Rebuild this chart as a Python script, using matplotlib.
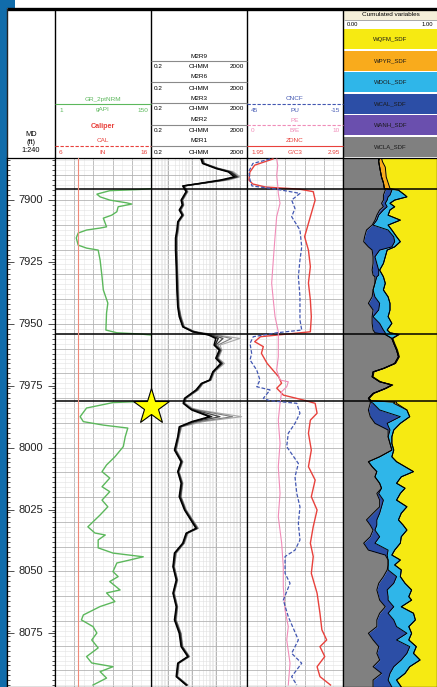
import numpy as np
import matplotlib.pyplot as plt
from matplotlib.patches import Rectangle
from matplotlib.ticker import MultipleLocator, FixedLocator, LogLocator, NullFormatter

plt.rcParams['font.family'] = ['Liberation Sans', 'DejaVu Sans']

W, H = 437, 687          # figure size in px
HEAD_BOT = 158           # bottom of the header band (px)
TRACK_X = [7, 55, 151, 247, 343, 437]

# ---- depth frame ---------------------------------------------------------
TOP_MD, BOT_MD = 7883.0, 8096.7
MD_LABELS = [7900, 7925, 7950, 7975, 8000, 8025, 8050, 8075]
ZONE_TOPS = [7895.7, 7954.1, 7981.3]
STAR_MD = 7983.6

# ---- track 1 : gamma ray + caliper --------------------------------------
GR_SCALE = (1, 150)
CAL_SCALE = (6, 16)
GR_MD = [7883.0, 7895.0, 7895.7, 7896.2, 7897.6, 7898.7, 7900.0, 7901.1, 7901.6, 7902.7,
         7904.7, 7906.1, 7907.3, 7910.8, 7911.3, 7912.1, 7913.3, 7915.3, 7918.2, 7919.4,
         7920.2, 7924.2, 7931.0, 7936.3, 7941.6, 7945.6, 7952.5, 7953.6, 7954.1, 7955.0,
         7980.6, 7981.3, 7981.8, 7984.0, 7987.5, 7989.5, 7990.9, 7992.1, 7995.6, 7999.6,
         8003.7, 8007.0, 8009.7, 8012.3, 8015.8, 8017.8, 8021.2, 8023.9, 8027.2, 8032.0,
         8034.5, 8035.3, 8037.3, 8040.5, 8042.6, 8044.1, 8045.4, 8046.6, 8050.1, 8052.1,
         8054.1, 8057.5, 8058.7, 8062.2, 8064.2, 8067.6, 8069.6, 8072.3, 8074.9, 8077.7,
         8080.9, 8084.4, 8087.0, 8088.5, 8090.5, 8093.1, 8095.9]
GR_API = [175, 170, 133, 86, 66, 71, 86, 112, 120, 99,
          97, 89, 76, 81, 71, 50, 37, 34, 37, 50,
          68, 71, 74, 76, 83, 81, 80, 97, 133, 170,
          170, 140, 91, 50, 40, 45, 76, 114, 110, 107,
          94, 81, 74, 86, 74, 86, 74, 83, 71, 52,
          63, 79, 68, 68, 91, 138, 117, 97, 91, 99,
          86, 102, 81, 94, 71, 45, 42, 60, 66, 58,
          68, 50, 58, 91, 71, 81, 60]
CAL_MD = [7883.0, 8096.7]
CAL_IN = [8.4, 8.4]

# ---- track 2 : resistivities ---------------------------------------------
RES_SCALE = (0.2, 2000)
RES_MD = [7883.2, 7885.2, 7887.2, 7888.6, 7890.6, 7891.9, 7893.3, 7894.3, 7896.6, 7900.0,
          7902.0, 7904.0, 7906.1, 7908.8, 7912.1, 7915.3, 7920.2, 7926.9, 7936.3, 7943.1,
          7947.1, 7951.2, 7953.2, 7954.5, 7955.9, 7958.6, 7960.6, 7963.9, 7966.0, 7969.4,
          7972.7, 7974.1, 7976.7, 7980.1, 7982.1, 7984.1, 7984.8, 7987.5, 7989.5, 7991.6,
          7995.6, 8001.0, 8005.7, 8009.7, 8014.4, 8019.8, 8025.2, 8032.6, 8034.6, 8038.6,
          8042.6, 8048.1, 8053.5, 8058.8, 8064.3, 8069.6, 8075.0, 8080.4, 8084.4, 8087.1,
          8092.5, 8095.9]
M2R1 = [24, 28, 100, 330, 600, 160, 20, 4.2, 5.8, 3.6,
        4.0, 3.0, 4.0, 2.6, 2.4, 2.1, 2.1, 2.25, 2.4, 2.6,
        3.0, 4.2, 11, 50, 100, 85, 140, 100, 160, 75,
        55, 25, 15, 5.0, 4.4, 8.0, 10, 55, 10, 3.0,
        2.6, 1.9, 3.6, 2.6, 3.6, 3.0, 5.0, 15, 5.8, 4.2,
        1.9, 1.65, 2.25, 1.65, 2.25, 1.9, 3.0, 3.6, 6.8, 2.6,
        2.25, 5.8]
M2R2 = [26, 30, 109, 392, 745, 200, 22, 4.4, 6.1, 3.8,
        4.2, 3.2, 4.2, 2.7, 2.5, 2.2, 2.2, 2.35, 2.5, 2.7,
        3.2, 4.4, 11.6, 57, 127, 93, 150, 109, 177, 79,
        57, 26, 16, 5.2, 4.6, 8.4, 11.6, 68, 11.6, 3.2,
        2.7, 2.0, 3.8, 2.7, 3.8, 3.2, 5.2, 16, 6.1, 4.4,
        2.0, 1.7, 2.35, 1.7, 2.35, 2.0, 3.2, 3.8, 7.2, 2.7,
        2.35, 6.1]
M2R3 = [27, 32, 115, 420, 800, 220, 24, 4.6, 6.4, 4.0,
        4.4, 3.4, 4.4, 2.8, 2.6, 2.3, 2.3, 2.45, 2.6, 2.8,
        3.4, 4.6, 12.5, 70, 200, 100, 160, 115, 185, 82,
        60, 28, 17, 5.5, 4.8, 8.8, 13, 150, 14, 3.4,
        2.8, 2.1, 4.0, 2.8, 4.0, 3.4, 5.5, 17, 6.4, 4.6,
        2.1, 1.8, 2.45, 1.8, 2.45, 2.1, 3.4, 4.0, 7.6, 2.8,
        2.45, 6.4]
M2R6 = [28, 33, 125, 480, 900, 280, 26, 4.8, 6.6, 4.1,
        4.5, 3.5, 4.5, 2.9, 2.7, 2.4, 2.4, 2.5, 2.7, 2.9,
        3.5, 4.8, 13.5, 90, 450, 120, 170, 120, 200, 85,
        62, 29, 18, 5.7, 5.0, 9.5, 16, 500, 20, 3.6,
        2.9, 2.2, 4.1, 2.9, 4.1, 3.5, 5.7, 18, 6.6, 4.8,
        2.2, 1.85, 2.5, 1.85, 2.5, 2.2, 3.5, 4.1, 7.8, 2.9,
        2.5, 6.6]
M2R9 = [30, 35, 140, 550, 1050, 350, 28, 5.0, 7.0, 4.3,
        4.7, 3.6, 4.7, 3.0, 2.8, 2.5, 2.5, 2.6, 2.8, 3.0,
        3.6, 5.0, 15, 120, 1000, 150, 180, 130, 230, 90,
        65, 30, 19, 6.0, 5.3, 11, 20, 1200, 30, 3.8,
        3.0, 2.3, 4.3, 3.0, 4.3, 3.6, 6.0, 19, 7.0, 5.0,
        2.3, 1.9, 2.6, 1.9, 2.6, 2.3, 3.6, 4.3, 8.2, 3.0,
        2.6, 7.0]

# ---- track 3 : density / neutron / PE ------------------------------------
ZDNC_SCALE = (1.95, 2.95)
CNCF_SCALE = (45, -15)
PE_SCALE = (0, 10)
ZDNC_MD = [7883.4, 7885.9, 7888.7, 7891.9, 7893.5, 7894.7, 7895.6, 7896.6, 7900.0, 7906.7,
           7914.8, 7920.2, 7926.9, 7933.5, 7940.4, 7947.1, 7953.2, 7955.2, 7957.2, 7959.2,
           7961.9, 7966.0, 7971.4, 7974.0, 7976.0, 7978.8, 7980.8, 7982.1, 7986.1, 7988.9,
           7994.2, 8001.0, 8007.7, 8013.1, 8019.8, 8025.2, 8031.9, 8038.6, 8044.0, 8050.8,
           8058.8, 8066.9, 8073.6, 8077.7, 8080.4, 8084.4, 8088.5, 8092.5, 8095.9]
ZDNC = [2.22, 2.03, 1.98, 1.97, 2.01, 2.14, 2.50, 2.64, 2.66, 2.61,
        2.55, 2.59, 2.61, 2.59, 2.61, 2.62, 2.61, 2.09, 2.03, 2.12,
        2.10, 2.16, 2.28, 2.31, 2.26, 2.33, 2.54, 2.66, 2.68, 2.61,
        2.59, 2.62, 2.59, 2.66, 2.62, 2.68, 2.64, 2.61, 2.64, 2.62,
        2.68, 2.71, 2.73, 2.78, 2.71, 2.76, 2.68, 2.71, 2.82]
CNCF_MD = [7883.4, 7885.2, 7888.3, 7891.9, 7894.3, 7895.5, 7897.3, 7900.0, 7903.4, 7906.7,
           7912.1, 7918.9, 7924.2, 7930.9, 7939.0, 7948.4, 7952.5, 7953.6, 7955.2, 7957.9,
           7961.9, 7964.6, 7968.7, 7972.7, 7975.4, 7976.7, 7980.1, 7981.0, 7982.1, 7986.1,
           7990.2, 7994.2, 7999.6, 8006.4, 8011.8, 8018.5, 8023.9, 8030.6, 8037.3, 8041.4,
           8044.0, 8050.8, 8054.8, 8061.6, 8068.3, 8077.7, 8083.1, 8087.1, 8092.5, 8095.9]
CNCF = [30.6, 41.3, 43.8, 43.1, 41.9, 27.5, 11.9, 17.1, 15.0, 17.1,
        11.9, 10.8, 11.9, 12.9, 11.9, 11.9, 10.8, 26.4, 41.1, 43.1,
        42.1, 43.1, 38.9, 36.9, 38.9, 30.6, 34.8, 31.0, 13.9, 11.9,
        15.0, 19.2, 20.2, 12.9, 15.0, 13.9, 11.9, 12.9, 11.9, 15.0,
        21.2, 21.2, 18.1, 22.3, 19.2, 12.9, 17.1, 10.8, 17.1, 13.9]
PE_MD = [7883.4, 7886.0, 7890.0, 7894.0, 7897.3, 7901.3, 7906.7, 7914.8, 7924.2, 7933.6,
         7940.4, 7947.1, 7953.2, 7955.2, 7963.3, 7968.7, 7972.7, 7973.4, 7975.4, 7977.4,
         7982.1, 7988.9, 7998.3, 8007.7, 8018.5, 8027.9, 8038.6, 8048.1, 8056.2, 8065.6,
         8072.3, 8077.7, 8087.1, 8095.9]
PE = [3.1, 3.2, 3.1, 3.2, 3.26, 3.44, 3.09, 2.92, 2.74, 2.57,
      2.74, 2.92, 3.26, 3.26, 3.26, 3.09, 3.44, 4.30, 4.14, 3.61,
      3.44, 3.26, 3.44, 3.26, 3.44, 3.26, 3.61, 3.78, 3.78, 3.96,
      4.30, 4.14, 4.48, 4.30]

# ---- track 4 : cumulated mineral fractions --------------------------------
CUM_MD = [7883.0, 7884.5, 7886.7, 7890.7, 7893.0, 7895.3, 7896.0, 7898.0, 7898.7, 7900.0,
          7901.3, 7902.7, 7904.0, 7906.1, 7908.1, 7910.1, 7912.1, 7914.8, 7916.8, 7918.9,
          7920.2, 7922.9, 7925.6, 7928.3, 7930.3, 7931.0, 7933.6, 7936.3, 7939.1, 7941.7,
          7944.4, 7947.1, 7949.8, 7952.5, 7953.6, 7954.3, 7955.9, 7957.9, 7960.6, 7963.3,
          7966.0, 7968.0, 7969.4, 7971.4, 7973.4, 7974.7, 7976.1, 7978.1, 7980.1, 7981.1,
          7981.6, 7982.1, 7984.8, 7987.5, 7990.2, 7992.9, 7995.6, 7998.3, 8001.0, 8003.7,
          8005.7, 8007.7, 8009.7, 8011.8, 8014.4, 8016.4, 8018.5, 8021.2, 8023.9, 8026.5,
          8029.2, 8031.3, 8033.3, 8036.0, 8038.6, 8041.4, 8043.4, 8045.4, 8047.4, 8049.4,
          8052.1, 8054.8, 8057.5, 8060.2, 8061.6, 8064.3, 8066.9, 8069.6, 8072.3, 8075.0,
          8077.7, 8080.4, 8083.1, 8085.8, 8088.5, 8091.2, 8093.9, 8096.7]
CUM_WCLA = [.38, .38, .39, .41, .43, .44, .45, .43, .43, .43,
            .41, .43, .39, .36, .34, .31, .25, .23, .22, .27,
            .31, .32, .32, .31, .32, .34, .34, .32, .31, .27,
            .32, .31, .31, .32, .34, .45, .52, .54, .57, .59,
            .55, .43, .32, .31, .39, .52, .45, .32, .27, .29,
            .29, .29, .27, .29, .34, .48, .48, .50, .52, .39,
            .27, .31, .36, .34, .39, .41, .36, .39, .39, .32,
            .25, .29, .32, .29, .22, .27, .45, .48, .48, .47,
            .43, .38, .36, .38, .39, .45, .39, .36, .36, .27,
            .32, .38, .36, .39, .32, .41, .32, .32]
CUM_WCAL = [.38, .38, .39, .41, .43, .44, .52, .50, .48, .47,
            .45, .47, .43, .38, .36, .32, .48, .54, .55, .52,
            .39, .34, .36, .38, .38, .36, .34, .32, .34, .39,
            .38, .32, .39, .43, .45, .45, .52, .54, .57, .59,
            .55, .43, .32, .31, .39, .52, .45, .32, .27, .29,
            .30, .32, .39, .61, .47, .50, .48, .50, .52, .39,
            .27, .31, .36, .34, .39, .41, .38, .43, .41, .39,
            .36, .36, .34, .39, .34, .48, .47, .48, .48, .48,
            .57, .54, .47, .48, .48, .54, .48, .54, .57, .68,
            .57, .71, .68, .62, .54, .50, .48, .52]
CUM_WDOL = [.39, .38, .39, .41, .43, .44, .59, .66, .68, .55,
            .50, .55, .50, .48, .61, .48, .52, .57, .61, .55,
            .47, .45, .43, .39, .42, .43, .45, .43, .48, .50,
            .50, .48, .52, .47, .50, .59, .52, .54, .57, .59,
            .55, .43, .32, .31, .39, .52, .45, .32, .27, .29,
            .55, .54, .68, .71, .61, .54, .52, .52, .54, .52,
            .57, .66, .75, .62, .57, .66, .61, .57, .68, .62,
            .59, .64, .68, .62, .61, .55, .52, .61, .55, .62,
            .61, .66, .73, .70, .73, .62, .75, .77, .70, .73,
            .70, .78, .75, .82, .71, .66, .57, .62]
CUM_WPYR = [.41, .42, .45, .46, .48, .50, .59, .66, .68, .55,
            .50, .55, .50, .48, .61, .48, .52, .57, .61, .55,
            .47, .45, .43, .39, .42, .43, .45, .43, .48, .50,
            .50, .48, .52, .47, .50, .60, .53, .55, .58, .60,
            .56, .44, .33, .32, .40, .53, .46, .33, .28, .30,
            .57, .57, .68, .71, .61, .54, .52, .52, .54, .52,
            .57, .66, .75, .62, .57, .66, .61, .57, .68, .62,
            .59, .64, .68, .62, .61, .55, .52, .61, .55, .62,
            .61, .66, .73, .70, .73, .62, .75, .77, .70, .73,
            .70, .78, .75, .82, .71, .66, .57, .62]
CUM_NAMES = ['WQFM_SDF', 'WPYR_SDF', 'WDOL_SDF', 'WCAL_SDF', 'WANH_SDF', 'WCLA_SDF']
CUM_COLORS = ['#f6ea12', '#f9ab1c', '#2fb6e9', '#2c4ea6', '#6a4fae', '#808080']

GREEN, RED, BLUE, PINK = '#5cb85c', '#e8413c', '#4257b2', '#f08cb8'


def track(i):
    x0, x1 = TRACK_X[i], TRACK_X[i + 1]
    ax = fig.add_axes([x0 / W, 0, (x1 - x0) / W, (H - HEAD_BOT) / H])
    ax.set_ylim(BOT_MD, TOP_MD)
    ax.tick_params(which='both', length=0, labelbottom=False, labelleft=False)
    for s in ax.spines.values():
        s.set_linewidth(0.9)
    return ax


def depth_grid(ax):
    ax.yaxis.set_major_locator(MultipleLocator(10))
    ax.yaxis.set_minor_locator(MultipleLocator(2))
    ax.grid(axis='y', which='major', color='#b4b4b4', lw=0.6)
    ax.grid(axis='y', which='minor', color='#e2e2e2', lw=0.4)
    ax.set_axisbelow(True)


def hide_twin(tw):
    tw.tick_params(which='both', length=0, labeltop=False, labelbottom=False)
    for s in tw.spines.values():
        s.set_visible(False)


fig = plt.figure(figsize=(W / 100, H / 100), dpi=100)

# header band drawn in pixel space
hdr = fig.add_axes([0, 0, 1, 1])
hdr.set_xlim(0, W)
hdr.set_ylim(H, 0)
hdr.axis('off')
hdr.add_patch(Rectangle((0, 0), 6.5, H, color='#116caa', lw=0))
hdr.add_patch(Rectangle((0, 0), 15, 7.5, color='#116caa', lw=0))
hdr.hlines(8.5, 7, W, color='black', lw=2.4)
hdr.vlines([7], 8, H, color='#222222', lw=1.0)
hdr.vlines(TRACK_X[1:5], 9, HEAD_BOT, color='black', lw=1.0)
FS = 4.6

# depth header
for txt, y in zip(['MD', '(ft)', '1:240'], [134, 142, 150]):
    hdr.text(31, y, txt, fontsize=5.3, ha='center', va='center')

# GR / caliper header
cx = (TRACK_X[1] + TRACK_X[2]) / 2
hdr.text(cx, 99, 'GR_2ptNRM', color=GREEN, fontsize=FS, ha='center', va='center')
hdr.hlines(104, TRACK_X[1], TRACK_X[2], color=GREEN, lw=0.8)
for x, t, ha in [(TRACK_X[1] + 4, f'{GR_SCALE[0]}', 'left'), (cx, 'gAPI', 'center'),
                 (TRACK_X[2] - 3, f'{GR_SCALE[1]}', 'right')]:
    hdr.text(x, 110, t, color=GREEN, fontsize=FS, ha=ha, va='center')
hdr.text(cx, 127, 'Caliper', color=RED, fontsize=5.2, fontweight='bold', ha='center', va='center')
hdr.text(cx, 141, 'CAL', color=RED, fontsize=FS, ha='center', va='center')
hdr.hlines(146, TRACK_X[1], TRACK_X[2], color=RED, lw=0.8, linestyles=(0, (3, 1.5)))
for x, t, ha in [(TRACK_X[1] + 4, f'{CAL_SCALE[0]}', 'left'), (cx, 'IN', 'center'),
                 (TRACK_X[2] - 3, f'{CAL_SCALE[1]}', 'right')]:
    hdr.text(x, 152, t, color=RED, fontsize=FS, ha=ha, va='center')

# resistivity header
cx = (TRACK_X[2] + TRACK_X[3]) / 2
for name, y in zip(['M2R9', 'M2R6', 'M2R3', 'M2R2', 'M2R1'], [56, 77, 98, 119.5, 141]):
    hdr.text(cx, y, name, fontsize=FS, ha='center', va='center')
    hdr.hlines(y + 5, TRACK_X[2], TRACK_X[3], color='#8a8a8a', lw=0.8)
    hdr.text(TRACK_X[2] + 3, y + 11, f'{RES_SCALE[0]}', fontsize=FS, ha='left', va='center')
    hdr.text(cx, y + 11, 'OHMM', fontsize=FS, ha='center', va='center')
    hdr.text(TRACK_X[3] - 3, y + 11, f'{RES_SCALE[1]}', fontsize=FS, ha='right', va='center')

# density header
cx = (TRACK_X[3] + TRACK_X[4]) / 2
dens_head = [('CNCF', 'PU', CNCF_SCALE, BLUE, 99, (0, (3, 1.5))),
             ('PE', 'B/E', PE_SCALE, PINK, 120, (0, (3, 1.5))),
             ('ZDNC', 'G/C3', ZDNC_SCALE, RED, 141, '-')]
for name, unit, sc, col, y, ls in dens_head:
    hdr.text(cx, y, name, color=col, fontsize=FS, ha='center', va='center')
    hdr.hlines(y + 5, TRACK_X[3], TRACK_X[4], color=col, lw=0.8, linestyles=ls)
    hdr.text(TRACK_X[3] + 4, y + 11, f'{sc[0]}', color=col, fontsize=FS, ha='left', va='center')
    hdr.text(cx, y + 11, unit, color=col, fontsize=FS, ha='center', va='center')
    hdr.text(TRACK_X[4] - 3, y + 11, f'{sc[1]}', color=col, fontsize=FS, ha='right', va='center')

# cumulated header
x0 = TRACK_X[4] + 1
hdr.add_patch(Rectangle((x0, 10), W - x0, 9.5, color='#f5efd9', lw=0))
hdr.text((x0 + W) / 2, 15, 'Cumulated variables', fontsize=FS, ha='center', va='center')
hdr.hlines(20, x0, W, color='#9a9a9a', lw=0.6)
hdr.text(x0 + 3, 24, '0.00', fontsize=4.2, ha='left', va='center')
hdr.text(W - 4, 24, '1.00', fontsize=4.2, ha='right', va='center')
for k, (name, col) in enumerate(zip(CUM_NAMES, CUM_COLORS)):
    top = 29.3 + k * 21.5
    hdr.add_patch(Rectangle((x0, top), W - x0, 20, color=col, lw=0))
    hdr.text((x0 + W) / 2, top + 10, name, fontsize=4.3, ha='center', va='center',
             color='#1a1a1a')

# ---- depth track ---------------------------------------------------------
ax_md = track(0)
ax_md.yaxis.set_major_locator(FixedLocator(MD_LABELS))
ax_md.yaxis.set_minor_locator(MultipleLocator(2))
ax_md.tick_params(axis='y', which='both', direction='in', left=True, right=True,
                  labelleft=False, color='#333333', width=0.6)
ax_md.tick_params(axis='y', which='major', length=5)
ax_md.tick_params(axis='y', which='minor', length=2.5)
ax_md.set_xticks([])
for md in MD_LABELS:
    ax_md.text(0.5, md, f'{md}', transform=ax_md.get_yaxis_transform(),
               fontsize=8, ha='center', va='center', color='#222222')

# ---- GR / caliper --------------------------------------------------------
ax_gr = track(1)
ax_gr.set_xlim(*GR_SCALE)
ax_gr.set_xticks(np.linspace(*GR_SCALE, 6))
ax_gr.set_xticks(np.linspace(*GR_SCALE, 11), minor=True)
ax_gr.grid(axis='x', which='major', color='#b4b4b4', lw=0.6)
ax_gr.grid(axis='x', which='minor', color='#e6e6e6', lw=0.4)
depth_grid(ax_gr)
ax_gr.plot(GR_API, GR_MD, color=GREEN, lw=1.0)
ax_cal = ax_gr.twiny()
ax_cal.set_xlim(*CAL_SCALE)
ax_cal.set_ylim(BOT_MD, TOP_MD)
hide_twin(ax_cal)
ax_cal.plot(CAL_IN, CAL_MD, color='#f08a7a', lw=0.8)

# ---- resistivity ---------------------------------------------------------
ax_res = track(2)
ax_res.set_xscale('log')
ax_res.set_xlim(*RES_SCALE)
ax_res.xaxis.set_major_locator(LogLocator(base=10, numticks=10))
ax_res.xaxis.set_minor_locator(LogLocator(base=10, subs=np.arange(2, 10), numticks=10))
ax_res.xaxis.set_minor_formatter(NullFormatter())
ax_res.tick_params(which='both', length=0, labelbottom=False)
ax_res.grid(axis='x', which='major', color='#a8a8a8', lw=0.6)
ax_res.grid(axis='x', which='minor', color='#e0e0e0', lw=0.4)
depth_grid(ax_res)
for vals, col, lw in [(M2R9, '#a8a8a8', 0.8), (M2R6, '#7c7c7c', 0.8), (M2R3, '#4a4a4a', 0.9),
                      (M2R2, '#222222', 1.0), (M2R1, 'black', 1.1)]:
    ax_res.plot(vals, RES_MD, color=col, lw=lw)

# ---- density / neutron ---------------------------------------------------
ax_den = track(3)
ax_den.set_xlim(*ZDNC_SCALE)
ax_den.set_xticks(np.linspace(*ZDNC_SCALE, 6))
ax_den.set_xticks(np.linspace(*ZDNC_SCALE, 11), minor=True)
ax_den.grid(axis='x', which='major', color='#b4b4b4', lw=0.6)
ax_den.grid(axis='x', which='minor', color='#e6e6e6', lw=0.4)
depth_grid(ax_den)
ax_pe = ax_den.twiny()
ax_pe.set_xlim(*PE_SCALE)
ax_pe.set_ylim(BOT_MD, TOP_MD)
hide_twin(ax_pe)
ax_pe.plot(PE, PE_MD, color=PINK, lw=0.8)
ax_cn = ax_den.twiny()
ax_cn.set_xlim(*CNCF_SCALE)
ax_cn.set_ylim(BOT_MD, TOP_MD)
hide_twin(ax_cn)
ax_cn.plot(CNCF, CNCF_MD, color=BLUE, lw=0.9, dashes=(3, 1.5))
ax_den.plot(ZDNC, ZDNC_MD, color=RED, lw=1.0, zorder=4)

# ---- cumulated fractions -------------------------------------------------
ax_cum = track(4)
ax_cum.set_xlim(0, 1)
bounds = [np.zeros(len(CUM_MD)), CUM_WCLA, CUM_WCLA, CUM_WCAL, CUM_WDOL, CUM_WPYR,
          np.ones(len(CUM_MD))]
fill_cols = CUM_COLORS[::-1]  # WCLA first (left) ... WQFM last (right)
for k in range(6):
    ax_cum.fill_betweenx(CUM_MD, bounds[k], bounds[k + 1], color=fill_cols[k], lw=0)
for b in [CUM_WCLA, CUM_WCAL, CUM_WDOL, CUM_WPYR]:
    ax_cum.plot(b, CUM_MD, color='black', lw=0.7)

# zone tops
for ax in [ax_gr, ax_res, ax_den, ax_cum]:
    for z in ZONE_TOPS:
        ax.axhline(z, color='black', lw=1.1, zorder=6)

# star marker on the GR / resistivity boundary
ax_gr.set_zorder(3)
ax_cal.set_zorder(4)
ax_cal.plot([1.0], [STAR_MD], transform=ax_cal.get_yaxis_transform(), marker='*',
            ms=27, mfc='#ffff00', mec='black', mew=0.8, clip_on=False, zorder=20)

fig.savefig('out.png', dpi=100)
